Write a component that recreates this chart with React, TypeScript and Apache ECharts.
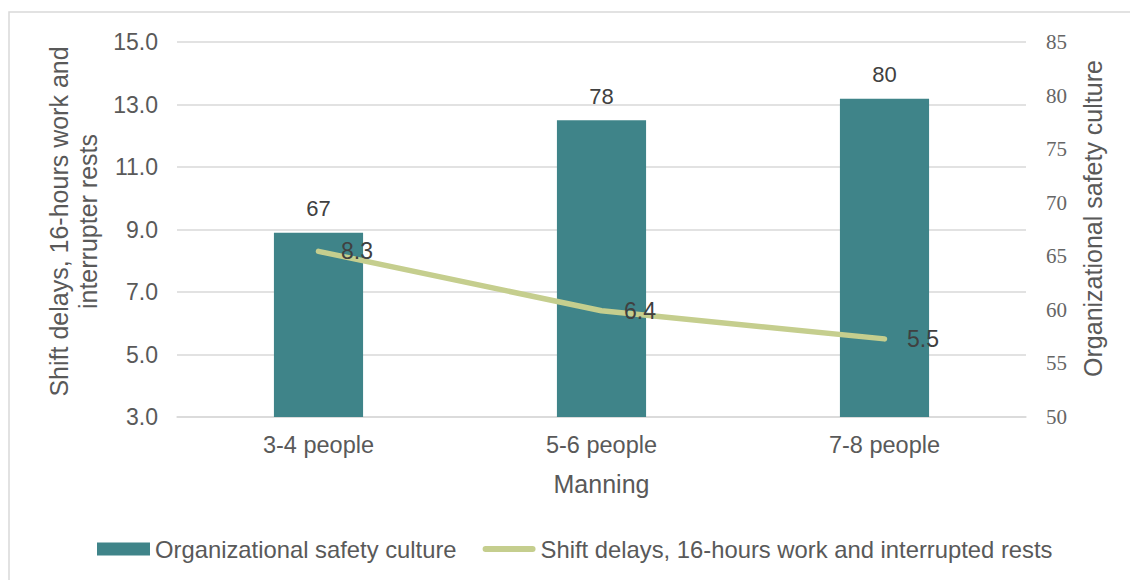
import React, { useEffect, useRef } from "react";
import * as echarts from "echarts";

const categories = ["3-4 people", "5-6 people", "7-8 people"];
const safetyCulture = [67.2, 77.7, 79.7];
const shiftDelays = [8.3, 6.4, 5.5];
const leftTicks = [3, 5, 7, 9, 11, 13, 15];

const SANS = "Arial, 'Liberation Sans', sans-serif";
const SERIF = "'Times New Roman', 'Liberation Serif', serif";
const LINE_ICON = "path://M3,0 L49,0 A3,3 0 0 1 49,6 L3,6 A3,3 0 0 1 3,0 Z";

export default function App() {
  const ref = useRef<HTMLDivElement>(null);
  useEffect(() => {
    document.body.style.margin = "0";
    const chart = echarts.init(ref.current!, null, { renderer: "svg" });
    chart.setOption({
      animation: false,
      backgroundColor: "#ffffff",
      graphic: [
        {
          type: "rect",
          shape: { x: 9, y: 12, width: 1140, height: 600 },
          style: { fill: "none", stroke: "#d9d9d9", lineWidth: 1.5 },
          silent: true,
          z: -1,
        },
      ],
      grid: { left: 177, right: 104, top: 42, bottom: 163, containLabel: false },
      legend: {
        top: 532,
        left: 92,
        itemWidth: 53,
        itemHeight: 13,
        itemGap: 26,
        symbolKeepAspect: true,
        textStyle: { fontFamily: SANS, fontSize: 23.8, color: "#595959" },
        data: [
          { name: "Organizational safety culture", icon: "rect" },
          { name: "Shift delays, 16-hours work and interrupted rests", icon: LINE_ICON },
        ],
      },
      xAxis: {
        type: "category",
        data: categories,
        name: "Manning",
        nameLocation: "middle",
        nameGap: 54,
        nameTextStyle: { fontFamily: SANS, fontSize: 25, color: "#595959" },
        axisLine: { lineStyle: { color: "#d9d9d9", width: 1.5 } },
        axisTick: { show: false },
        axisLabel: { fontFamily: SANS, fontSize: 23.5, color: "#595959", margin: 16 },
      },
      yAxis: [
        {
          type: "value",
          min: 3,
          max: 15,
          name: "Shift delays, 16-hours work and\ninterrupter rests",
          nameLocation: "middle",
          nameGap: 75,
          nameTextStyle: {
            fontFamily: SANS,
            fontSize: 25,
            color: "#595959",
            lineHeight: 29,
            padding: [0, 0, 0, 16],
          },
          axisLine: { show: false },
          axisTick: { show: false },
          splitLine: { show: false },
          axisLabel: {
            customValues: leftTicks,
            fontFamily: SANS,
            fontSize: 23,
            color: "#595959",
            margin: 19,
            formatter: (v: number) => v.toFixed(1),
          },
        },
        {
          type: "value",
          min: 50,
          max: 85,
          interval: 5,
          position: "right",
          name: "Organizational safety culture",
          nameLocation: "middle",
          nameGap: 54,
          nameTextStyle: {
            fontFamily: SANS,
            fontSize: 25,
            color: "#595959",
            padding: [0, 0, 0, 22],
          },
          axisLine: { show: false },
          axisTick: { show: false },
          splitLine: { show: false },
          axisLabel: { fontFamily: SERIF, fontSize: 21, color: "#666666", margin: 20 },
        },
        {
          type: "value",
          min: 0,
          max: leftTicks.length - 1,
          interval: 1,
          show: true,
          axisLine: { show: false },
          axisTick: { show: false },
          axisLabel: { show: false },
          splitLine: { show: true, lineStyle: { color: "#d9d9d9", width: 1.5 } },
        },
      ],
      series: [
        {
          name: "Organizational safety culture",
          type: "bar",
          yAxisIndex: 1,
          data: safetyCulture,
          barWidth: "31.5%",
          itemStyle: { color: "#3f8489" },
          label: {
            show: true,
            position: "top",
            distance: 13,
            fontFamily: SANS,
            fontSize: 22,
            color: "#404040",
            formatter: (p: any) => String(Math.round(p.value)),
          },
          z: 2,
        },
        {
          name: "Shift delays, 16-hours work and interrupted rests",
          type: "line",
          yAxisIndex: 0,
          data: shiftDelays,
          symbol: "circle",
          symbolSize: 1,
          itemStyle: { color: "#c5ce8e" },
          lineStyle: { color: "#c5ce8e", width: 5.5, cap: "round", join: "round" },
          label: {
            show: true,
            position: "right",
            distance: 22,
            fontFamily: SANS,
            fontSize: 23,
            color: "#404040",
            formatter: (p: any) => Number(p.value).toFixed(1),
          },
          z: 3,
        },
      ],
    });
    return () => chart.dispose();
  }, []);
  return <div ref={ref} style={{ width: 1130, height: 580 }} />;
}
